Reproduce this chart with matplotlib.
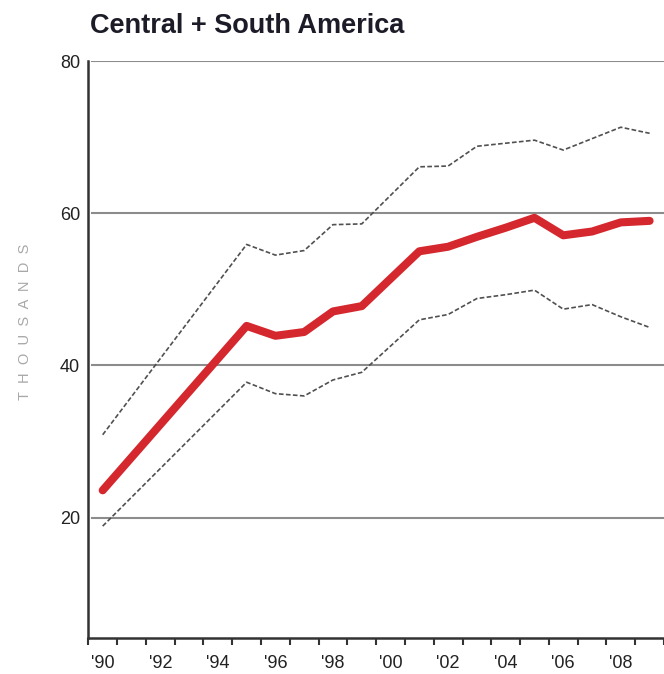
import matplotlib
matplotlib.use("Agg")
import matplotlib.pyplot as plt
from matplotlib import font_manager

years = [1990, 1995, 1996, 1997, 1998, 1999, 2001, 2002, 2003, 2004, 2005, 2006, 2007, 2008, 2009]
central = [23.6, 45.2, 43.9, 44.4, 47.1, 47.8, 55.0, 55.6, 56.9, 58.1, 59.4, 57.1, 57.6, 58.8, 59.0]
upper = [30.9, 55.9, 54.5, 55.1, 58.5, 58.6, 66.1, 66.2, 68.8, 69.2, 69.6, 68.3, 69.8, 71.3, 70.5]
lower = [18.9, 37.8, 36.3, 36.0, 38.1, 39.1, 46.0, 46.7, 48.8, 49.3, 49.9, 47.4, 48.0, 46.4, 45.0]

ytick_vals = [20, 40, 60, 80]
xtick_label_years = list(range(1990, 2010, 2))
xtick_labels = ["'90", "'92", "'94", "'96", "'98", "'00", "'02", "'04", "'06", "'08"]
title = "Central + South America"
ylabel = "THOUSANDS"

names = {f.name for f in font_manager.fontManager.ttflist}
narrow = "Liberation Sans Narrow" if "Liberation Sans Narrow" in names else "Liberation Sans"

W, H = 664, 674
fig = plt.figure(figsize=(W / 100, H / 100), dpi=100)
left_px, right_px, top_px, bot_px = 88.3, 664, 61, 638
ax = fig.add_axes([left_px / W, 1 - bot_px / H, (right_px - left_px) / W, (bot_px - top_px) / H])

xs = [y + 0.5 for y in years]
ax.plot(xs, upper, color="#505050", lw=1.2, dashes=(2.8, 1.4), zorder=3)
ax.plot(xs, lower, color="#505050", lw=1.2, dashes=(2.8, 1.4), zorder=3)
ax.plot(xs, central, color="#d4282e", lw=5.8, solid_capstyle="round", solid_joinstyle="round", zorder=4)

ax.set_xlim(1990, 1990 + (right_px - left_px) / 29.0)
ax.set_ylim(4.2, 80)

for v in ytick_vals:
    ax.axhline(v, color="#8c8c8c", lw=1.5, zorder=1, xmin=0.007)

ax.set_yticks(ytick_vals)
ax.set_yticklabels([str(v) for v in ytick_vals], fontname=narrow, fontsize=13, color="#222222")
ax.tick_params(axis="y", length=0, pad=6)

ax.set_xticks(list(range(1990, 2011)), minor=True)
ax.set_xticks([y + 0.5 for y in xtick_label_years])
ax.set_xticklabels(xtick_labels, fontname=narrow, fontsize=13, color="#222222")
ax.tick_params(axis="x", which="major", length=0, pad=12)
ax.tick_params(axis="x", which="minor", length=5, width=1.5, color="#333333", direction="out")

for s in ["top", "right"]:
    ax.spines[s].set_visible(False)
for s in ["left", "bottom"]:
    ax.spines[s].set_color("#333333")
    ax.spines[s].set_linewidth(1.8)

fig.text(90 / W, 1 - 26 / H, title, fontsize=19.5, fontweight="bold", color="#1c1c28",
         family="Liberation Sans", va="center", ha="left")
fig.text(25 / W, 1 - 322 / H, "  ".join(ylabel), rotation=90, fontsize=10.5,
         color="#a8a8a8", family="Liberation Sans", va="center", ha="center")

fig.savefig("out.png", dpi=100)
